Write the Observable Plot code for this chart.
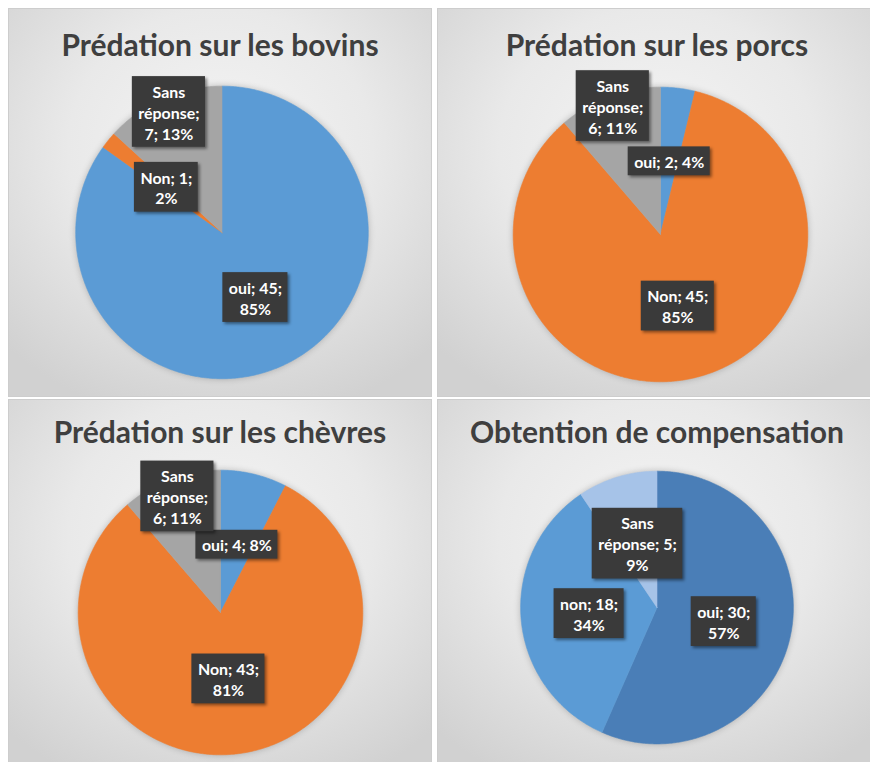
<!DOCTYPE html>
<html><head><meta charset="utf-8">
<script src="https://cdn.jsdelivr.net/npm/d3@7"></script>
<script src="https://cdn.jsdelivr.net/npm/@observablehq/plot@0.6"></script>
<style>
body{margin:0;background:#fff;}
#wrap{position:relative;width:870px;height:762px;overflow:hidden;background:#fff;}
.panel{position:absolute;overflow:hidden;border:1px solid #cdcdcd;box-sizing:border-box;
 background: radial-gradient(ellipse 72% 72% at 50% 36%, #f4f4f4 0%, #e9e9e9 50%, #d1d1d1 100%);}
.title{position:absolute;left:0;right:0;text-align:center;font-family:Lato,"Open Sans",sans-serif;font-weight:700;color:#3f3f3f;font-size:30px;line-height:30px;white-space:nowrap;z-index:2;}
.panel svg{position:absolute;left:0;top:0;overflow:visible;background:transparent;}
g[aria-label="rect"] rect{filter:drop-shadow(2px 2px 1.5px rgba(0,0,0,0.45));}
g[aria-label="line"]{filter:drop-shadow(0 0 3px rgba(0,0,0,0.22));}
</style>
</head><body><div id="wrap"></div>
<script>
// ---- data ----
const titles = ["Prédation sur les bovins", "Prédation sur les porcs", "Prédation sur les chèvres", "Obtention de compensation"];
const categoriesBovins = ["oui", "Non", "Sans réponse"];
const valuesBovins = [45, 1, 7];
const categoriesPorcs = ["oui", "Non", "Sans réponse"];
const valuesPorcs = [2, 45, 6];
const categoriesChevres = ["oui", "Non", "Sans réponse"];
const valuesChevres = [4, 43, 6];
const categoriesCompensation = ["oui", "non", "Sans réponse"];
const valuesCompensation = [30, 18, 5];

// ---- styles / layout (not data) ----
const colorsPredation = ["#5b9bd5", "#ed7d31", "#a5a5a5"];
const colorsCompensation = ["#4a7eb7", "#5b9bd5", "#a6c3e8"];
const panels = [
  {cats: categoriesBovins, vals: valuesBovins, colors: colorsPredation, left: 8, top: 8, w: 424, h: 389, cx: 221.5, cy: 232, r: 147, titleTop: 19.5, labelR: [0.5, 0.49, 0.9], wrap: [8, 8, 8]},
  {cats: categoriesPorcs, vals: valuesPorcs, colors: colorsPredation, left: 437, top: 8, w: 440, h: 389, cx: 660, cy: 234, r: 148, titleTop: 19.5, labelR: [0.5, 0.5, 0.93], wrap: [10, 8, 8]},
  {cats: categoriesChevres, vals: valuesChevres, colors: colorsPredation, left: 8, top: 399, w: 424, h: 380, cx: 220, cy: 612, r: 143, titleTop: 15.5, labelR: [0.49, 0.47, 0.87], wrap: [10, 8, 8]},
  {cats: categoriesCompensation, vals: valuesCompensation, colors: colorsCompensation, left: 437, top: 399, w: 440, h: 380, cx: 656.5, cy: 607, r: 137, titleTop: 15.5, labelR: [0.5, 0.5, 0.49], wrap: [8, 8, 11]}
];
const labelFont = 16, lineH = 21, padX = 6, padY = 4;

const pct = d3.format(".0%");
const ctx = document.createElement("canvas").getContext("2d");
ctx.font = `bold ${labelFont}px Lato`;

function wrapText(s, max) {
  const words = s.split(" "), lines = [];
  let cur = "";
  for (const w of words) {
    if (!cur) cur = w;
    else if ((cur + " " + w).length <= max) cur += " " + w;
    else { lines.push(cur); cur = w; }
  }
  if (cur) lines.push(cur);
  return lines;
}

const wrap = document.getElementById("wrap");
panels.forEach((p, pi) => {
  const div = document.createElement("div");
  div.className = "panel";
  Object.assign(div.style, {left: p.left + "px", top: p.top + "px", width: p.w + "px", height: p.h + "px"});
  const t = document.createElement("div");
  t.className = "title";
  t.style.top = p.titleTop + "px";
  t.textContent = titles[pi];
  div.appendChild(t);

  const data = p.cats.map((c, i) => ({c, v: p.vals[i]}));
  const total = d3.sum(p.vals);
  const arcs = d3.pie().sort(null).value(d => d.v)(data);
  const poly = [];
  const labels = [];
  arcs.forEach((a, i) => {
    const n = Math.max(2, Math.ceil((a.endAngle - a.startAngle) / (Math.PI / 360)));
    poly.push({c: a.data.c, x: 0, y: 0});
    for (let k = 0; k <= n; k++) {
      const ang = a.startAngle + (a.endAngle - a.startAngle) * k / n;
      poly.push({c: a.data.c, x: Math.sin(ang), y: Math.cos(ang)});
    }
    poly.push({c: a.data.c, x: 0, y: 0});
    const mid = (a.startAngle + a.endAngle) / 2;
    const lines = wrapText(`${a.data.c}; ${a.data.v}; ${pct(a.data.v / total)}`, p.wrap[i]);
    const tw = d3.max(lines, l => ctx.measureText(l).width);
    const bw = (tw + 2 * padX) / p.r, bh = (lines.length * lineH + 2 * padY) / p.r;
    const lx = p.labelR[i] * Math.sin(mid), ly = p.labelR[i] * Math.cos(mid);
    labels.push({text: lines.join("\n"), x: lx, y: ly, x1: lx - bw / 2, x2: lx + bw / 2, y1: ly - bh / 2, y2: ly + bh / 2});
  });

  const cxr = p.cx - p.left, cyr = p.cy - p.top;
  const chart = Plot.plot({
    width: p.w, height: p.h, margin: 0,
    x: {domain: [-cxr / p.r, (p.w - cxr) / p.r], axis: null},
    y: {domain: [-(p.h - cyr) / p.r, cyr / p.r], axis: null},
    color: {domain: p.cats, range: p.colors},
    style: {background: "transparent", overflow: "visible"},
    marks: [
      Plot.line(poly, {x: "x", y: "y", z: "c", fill: "c", stroke: "c", strokeWidth: 0.6, curve: "linear"}),
      Plot.rect(labels, {x1: "x1", x2: "x2", y1: "y1", y2: "y2", fill: "#3a3a3a"}),
      Plot.text(labels, {x: "x", y: "y", text: "text", fill: "white", fontSize: labelFont, fontWeight: "bold", fontFamily: "Lato", lineHeight: lineH / labelFont})
    ]
  });
  div.appendChild(chart);
  wrap.appendChild(div);
});
</script>
</body></html>
